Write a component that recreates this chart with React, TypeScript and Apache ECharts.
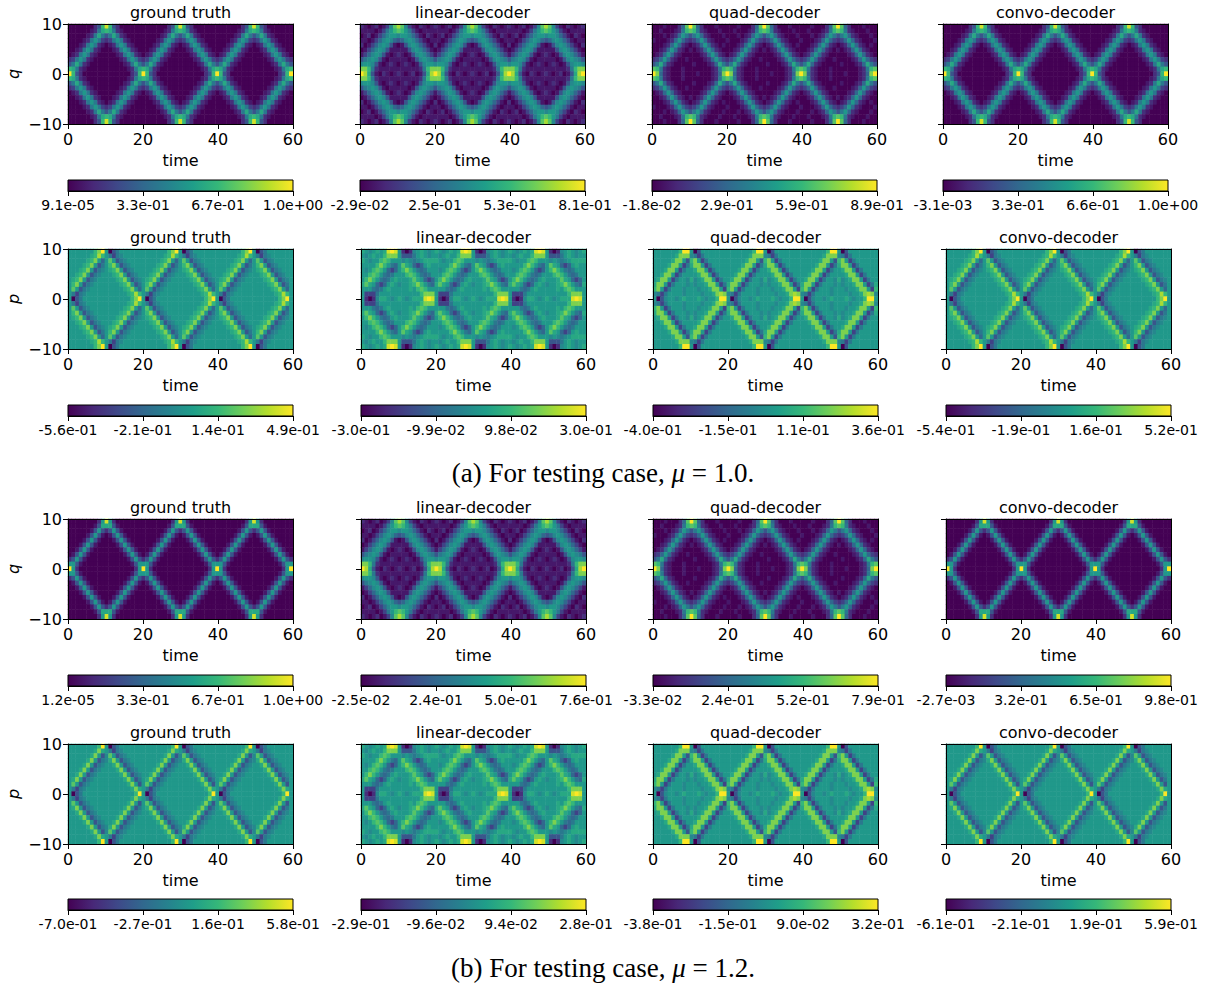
import React, { useEffect, useRef } from "react";
import * as echarts from "echarts";

// Colour levels (hex digit = 0..15 along the colour bar).
// One string per row from q = 10 down to q = -10; one character per time unit, 0..60.
// Spaces only group the characters for reading and carry no value.
const qTruth = [
  "000000024aea42000000 000000024aea42000000 000000024aea42000000 0",
  "0000001269a962100000 0000001269a962100000 0000001269a962100000 0",
  "00000126964696210000 00000126964696210000 00000126964696210000 0",
  "00001268632368621000 00001268632368621000 00001268632368621000 0",
  "00012686210126862100 00012686210126862100 00012686210126862100 0",
  "00126862100012686210 00126862100012686210 00126862100012686210 0",
  "01268621000001268621 01268621000001268621 01268621000001268621 0",
  "23686210000000126863 23686210000000126863 23686210000000126863 2",
  "46962100000000012696 46962100000000012696 46962100000000012696 4",
  "a9621000000000001269 a9621000000000001269 a9621000000000001269 a",
  "fa42000000000000024a fa42000000000000024a fa42000000000000024a f",
  "a9621000000000001269 a9621000000000001269 a9621000000000001269 a",
  "46962100000000012696 46962100000000012696 46962100000000012696 4",
  "23686210000000126863 23686210000000126863 23686210000000126863 2",
  "01268621000001268621 01268621000001268621 01268621000001268621 0",
  "00126862100012686210 00126862100012686210 00126862100012686210 0",
  "00012686210126862100 00012686210126862100 00012686210126862100 0",
  "00001268632368621000 00001268632368621000 00001268632368621000 0",
  "00000126964696210000 00000126964696210000 00000126964696210000 0",
  "0000001269a962100000 0000001269a962100000 0000001269a962100000 0",
  "000000024aea42000000 000000024aea42000000 000000024aea42000000 0",
];

const qSharp = [
  "0000000028e820000000 0000000028e820000000 0000000028e820000000 0",
  "00000001499941000000 00000001499941000000 00000001499941000000 0",
  "00000014842484100000 00000014842484100000 00000014842484100000 0",
  "00000148410148410000 00000148410148410000 00000148410148410000 0",
  "00001484100014841000 00001484100014841000 00001484100014841000 0",
  "00014841000001484100 00014841000001484100 00014841000001484100 0",
  "00148410000000148410 00148410000000148410 00148410000000148410 0",
  "01484100000000014841 01484100000000014841 01484100000000014841 0",
  "24841000000000001484 24841000000000001484 24841000000000001484 2",
  "88410000000000000148 88410000000000000148 88410000000000000148 8",
  "f8200000000000000028 f8200000000000000028 f8200000000000000028 f",
  "88410000000000000148 88410000000000000148 88410000000000000148 8",
  "24841000000000001484 24841000000000001484 24841000000000001484 2",
  "01484100000000014841 01484100000000014841 01484100000000014841 0",
  "00148410000000148410 00148410000000148410 00148410000000148410 0",
  "00014841000001484100 00014841000001484100 00014841000001484100 0",
  "00001484100014841000 00001484100014841000 00001484100014841000 0",
  "00000148410148410000 00000148410148410000 00000148410148410000 0",
  "00000014842484100000 00000014842484100000 00000014842484100000 0",
  "00000001499941000000 00000001499941000000 00000001499941000000 0",
  "0000000028e820000000 0000000028e820000000 0000000028e820000000 0",
];

const qLinear = [
  "210120137bdb73102101 210120137bdb73102101 210120137bdb73102101 2",
  "111101368aba86310111 111101368aba86310111 111101368aba86310111 1",
  "01201357887887531021 01201357887887531021 01201357887887531021 0",
  "11013578754578753101 11013578754578753101 11013578754578753101 1",
  "20135787410147875310 20135787410147875310 20135787410147875310 2",
  "01357874111114787531 01357874111114787531 01357874111114787531 0",
  "13578741012101478753 13578741012101478753 13578741012101478753 1",
  "46787410111110147876 46787410111110147876 46787410111110147876 4",
  "78874101210121014788 78874101210121014788 78874101210121014788 7",
  "cca621111111111126ac cca621111111111126ac cca621111111111126ac c",
  "fd94102101210120149d fd94102101210120149d fd94102101210120149d f",
  "cca621111111111126ac cca621111111111126ac cca621111111111126ac c",
  "78874101210121014788 78874101210121014788 78874101210121014788 7",
  "46787410111110147876 46787410111110147876 46787410111110147876 4",
  "13578741012101478753 13578741012101478753 13578741012101478753 1",
  "01357874111114787531 01357874111114787531 01357874111114787531 0",
  "20135787410147875310 20135787410147875310 20135787410147875310 2",
  "11013578754578753101 11013578754578753101 11013578754578753101 1",
  "01201357887887531021 01201357887887531021 01201357887887531021 0",
  "111101368aba86310111 111101368aba86310111 111101368aba86310111 1",
  "210120137bdb73102101 210120137bdb73102101 210120137bdb73102101 2",
];

const qQuad = [
  "000100025bfb52000100 000100025bfb52000100 000100025bfb52000100 0",
  "001000126aba62100010 001000126aba62100010 001000126aba62100010 0",
  "00010125864685210001 00010125864685210001 00010125864685210001 0",
  "10001258532358521000 10001258532358521000 10001258532358521000 1",
  "00012585210125852101 00012585210125852101 00012585210125852101 0",
  "00125852101012585210 00125852101012585210 00125852101012585210 0",
  "01258521000001258521 01258521000001258521 01258521000001258521 0",
  "23585210010000125853 23585210010000125853 23585210010000125853 2",
  "46952100000100012596 46952100000100012596 46952100000100012596 4",
  "ba62100010000000126a ba62100010000000126a ba62100010000000126a b",
  "fc52100010001000125c fc52100010001000125c fc52100010001000125c f",
  "ba62100010000000126a ba62100010000000126a ba62100010000000126a b",
  "46952100000100012596 46952100000100012596 46952100000100012596 4",
  "23585210010000125853 23585210010000125853 23585210010000125853 2",
  "01258521000001258521 01258521000001258521 01258521000001258521 0",
  "00125852101012585210 00125852101012585210 00125852101012585210 0",
  "00012585210125852101 00012585210125852101 00012585210125852101 0",
  "10001258532358521000 10001258532358521000 10001258532358521000 1",
  "00010125864685210001 00010125864685210001 00010125864685210001 0",
  "001000126aba62100010 001000126aba62100010 001000126aba62100010 0",
  "000100025bfb52000100 000100025bfb52000100 000100025bfb52000100 0",
];

const pTruth = [
  "8888888acf8046888888 8888888acf8046888888 8888888acf8046888888 8",
  "8888889ada8636788888 8888889ada8636788888 8888889ada8636788888 8",
  "888889ac858b84678888 888889ac858b84678888 888889ac858b84678888 8",
  "88889ac8468ac8467888 88889ac8468ac8467888 88889ac8468ac8467888 8",
  "8889ac846789ac846788 8889ac846789ac846788 8889ac846789ac846788 8",
  "889ac84678889ac84678 889ac84678889ac84678 889ac84678889ac84678 8",
  "89ac8467888889ac8467 89ac8467888889ac8467 89ac8467888889ac8467 8",
  "8ac846788888889ac846 8ac846788888889ac846 8ac846788888889ac846 8",
  "8b84678888888889ac85 8b84678888888889ac85 8b84678888888889ac85 8",
  "86367888888888889ada 86367888888888889ada 86367888888888889ada 8",
  "80468888888888888acf 80468888888888888acf 80468888888888888acf 8",
  "86367888888888889ada 86367888888888889ada 86367888888888889ada 8",
  "8b84678888888889ac85 8b84678888888889ac85 8b84678888888889ac85 8",
  "8ac846788888889ac846 8ac846788888889ac846 8ac846788888889ac846 8",
  "89ac8467888889ac8467 89ac8467888889ac8467 89ac8467888889ac8467 8",
  "889ac84678889ac84678 889ac84678889ac84678 889ac84678889ac84678 8",
  "8889ac846789ac846788 8889ac846789ac846788 8889ac846789ac846788 8",
  "88889ac8468ac8467888 88889ac8468ac8467888 88889ac8468ac8467888 8",
  "888889ac858b84678888 888889ac858b84678888 888889ac858b84678888 8",
  "8888889ada8636788888 8888889ada8636788888 8888889ada8636788888 8",
  "8888888acf8046888888 8888888acf8046888888 8888888acf8046888888 8",
];

const pSharp = [
  "88888888af8046888888 88888888af8046888888 88888888af8046888888 8",
  "88888889c98636788888 88888889c98636788888 88888889c98636788888 8",
  "8888889c847b84678888 8888889c847b84678888 8888889c847b84678888 8",
  "888889c84679c8467888 888889c84679c8467888 888889c84679c8467888 8",
  "88889c8467889c846788 88889c8467889c846788 88889c8467889c846788 8",
  "8889c846788889c84678 8889c846788889c84678 8889c846788889c84678 8",
  "889c84678888889c8467 889c84678888889c8467 889c84678888889c8467 8",
  "89c8467888888889c846 89c8467888888889c846 89c8467888888889c846 8",
  "8b846788888888889c84 8b846788888888889c84 8b846788888888889c84 8",
  "863678888888888889c9 863678888888888889c9 863678888888888889c9 8",
  "804688888888888888af 804688888888888888af 804688888888888888af 8",
  "863678888888888889c9 863678888888888889c9 863678888888888889c9 8",
  "8b846788888888889c84 8b846788888888889c84 8b846788888888889c84 8",
  "89c8467888888889c846 89c8467888888889c846 89c8467888888889c846 8",
  "889c84678888889c8467 889c84678888889c8467 889c84678888889c8467 8",
  "8889c846788889c84678 8889c846788889c84678 8889c846788889c84678 8",
  "88889c8467889c846788 88889c8467889c846788 88889c8467889c846788 8",
  "888889c84679c8467888 888889c84679c8467888 888889c84679c8467888 8",
  "8888889c847b84678888 8888889c847b84678888 8888889c847b84678888 8",
  "88888889c98636788888 88888889c98636788888 88888889c98636788888 8",
  "88888888af8046888888 88888888af8046888888 88888888af8046888888 8",
];

const pLinear = [
  "9878989efe8202789878 9878989efe8202789878 9878989efe8202789878 9",
  "878988accc8444689878 878988accc8444689878 878988accc8444689878 8",
  "98788aba888787678999 98788aba888787678999 98788aba888787678999 9",
  "8888aca8658b98535898 8888aca8658b98535898 8888aca8658b98535898 8",
  "878aba85358aca865688 878aba85358aca865688 878aba85358aca865688 8",
  "88aba8656888aba86568 88aba8656888aba86568 88aba8656888aba86568 8",
  "8aca8656898889b98535 8aca8656898889b98535 8aca8656898889b98535 8",
  "9b985358987889aca865 9b985358987889aca865 9b985358987889aca865 9",
  "888656898888898aba88 888656898888898aba88 888656898888898aba88 8",
  "8333688888888888accc 8333688888888888accc 8333688888888888accc 8",
  "82027998789878999efe 82027998789878999efe 82027998789878999efe 8",
  "8333688888888888accc 8333688888888888accc 8333688888888888accc 8",
  "888656898888898aba88 888656898888898aba88 888656898888898aba88 8",
  "9b985358987889aca865 9b985358987889aca865 9b985358987889aca865 9",
  "8aca8656898889b98535 8aca8656898889b98535 8aca8656898889b98535 8",
  "88aba8656888aba86568 88aba8656888aba86568 88aba8656888aba86568 8",
  "878aba85358aca865688 878aba85358aca865688 878aba85358aca865688 8",
  "8888aca8658b98535898 8888aca8658b98535898 8888aca8658b98535898 8",
  "98788aba888787678999 98788aba888787678999 98788aba888787678999 9",
  "878988accc8444689878 878988accc8444689878 878988accc8444689878 8",
  "9878989efe8202789878 9878989efe8202789878 9878989efe8202789878 9",
];

const pQuad = [
  "8888888aff8048888888 8888888aff8048888888 8888888aff8048888888 8",
  "8888889ccc7636888888 8888889ccc7636888888 8888889ccc7636888888 8",
  "888889cc84ac83688888 888889cc84ac83688888 888889cc84ac83688888 8",
  "88889cc8369cc8368888 88889cc8369cc8368888 88889cc8369cc8368888 8",
  "8889cc836889cc836888 8889cc836889cc836888 8889cc836889cc836888 8",
  "889cc83688889cc83688 889cc83688889cc83688 889cc83688889cc83688 8",
  "89cc8368879789cc8368 89cc8368879789cc8368 89cc8368879789cc8368 8",
  "9cc836888787889cc836 9cc836888787889cc836 9cc836888787889cc836 9",
  "ac83688878887889cc83 ac83688878887889cc83 ac83688878887889cc83 a",
  "76368888788887889cdc 76368888788887889cdc 76368888788887889cdc 7",
  "80478878988898788aff 80478878988898788aff 80478878988898788aff 8",
  "76368888788887889cdc 76368888788887889cdc 76368888788887889cdc 7",
  "ac83688878887889cc83 ac83688878887889cc83 ac83688878887889cc83 a",
  "9cc836888787889cc836 9cc836888787889cc836 9cc836888787889cc836 9",
  "89cc8368879789cc8368 89cc8368879789cc8368 89cc8368879789cc8368 8",
  "889cc83688889cc83688 889cc83688889cc83688 889cc83688889cc83688 8",
  "8889cc836889cc836888 8889cc836889cc836888 8889cc836889cc836888 8",
  "88889cc8369cc8368888 88889cc8369cc8368888 88889cc8369cc8368888 8",
  "888889cc84ac83688888 888889cc84ac83688888 888889cc84ac83688888 8",
  "8888889ccc7636888888 8888889ccc7636888888 8888889ccc7636888888 8",
  "8888888aff8048888888 8888888aff8048888888 8888888aff8048888888 8",
];

const panelTitles = ["ground truth", "linear-decoder", "quad-decoder", "convo-decoder"];
const rowNames = ["q", "p", "q", "p"];
const rowData = [
  [qTruth, qLinear, qQuad, qTruth],
  [pTruth, pLinear, pQuad, pTruth],
  [qSharp, qLinear, qQuad, qSharp],
  [pSharp, pLinear, pQuad, pSharp],
];
const barLabels = [
  [["9.1e-05", "3.3e-01", "6.7e-01", "1.0e+00"], ["-2.9e-02", "2.5e-01", "5.3e-01", "8.1e-01"], ["-1.8e-02", "2.9e-01", "5.9e-01", "8.9e-01"], ["-3.1e-03", "3.3e-01", "6.6e-01", "1.0e+00"]],
  [["-5.6e-01", "-2.1e-01", "1.4e-01", "4.9e-01"], ["-3.0e-01", "-9.9e-02", "9.8e-02", "3.0e-01"], ["-4.0e-01", "-1.5e-01", "1.1e-01", "3.6e-01"], ["-5.4e-01", "-1.9e-01", "1.6e-01", "5.2e-01"]],
  [["1.2e-05", "3.3e-01", "6.7e-01", "1.0e+00"], ["-2.5e-02", "2.4e-01", "5.0e-01", "7.6e-01"], ["-3.3e-02", "2.4e-01", "5.2e-01", "7.9e-01"], ["-2.7e-03", "3.2e-01", "6.5e-01", "9.8e-01"]],
  [["-7.0e-01", "-2.7e-01", "1.6e-01", "5.8e-01"], ["-2.9e-01", "-9.6e-02", "9.4e-02", "2.8e-01"], ["-3.8e-01", "-1.5e-01", "9.0e-02", "3.2e-01"], ["-6.1e-01", "-2.1e-01", "1.9e-01", "5.9e-01"]],
];
const captions = [
  { text: "(a) For testing case, {i|μ} = 1.0.", top: 454 },
  { text: "(b) For testing case, {i|μ} = 1.2.", top: 949 },
];

const viridis = ["#440154", "#482878", "#3e4989", "#31688e", "#26828e", "#1f9e89", "#35b779", "#6ece58", "#b5de2b", "#fde725"];

const rowTops = [24, 249, 519, 744];
const barTops = [180, 405, 675, 899];
const rowLefts = [
  [68, 360, 652, 943],
  [68, 361, 653, 946],
  [68, 361, 653, 946],
  [68, 361, 653, 946],
];
const PW = 225;
const PH = 100;
const BH = 11;
const FONT = "DejaVu Sans";

function clean(rows: string[]) {
  return rows.map((s) => s.replace(/ /g, ""));
}

function cells(rows: string[]) {
  const out: number[][] = [];
  rows.forEach((s, r) => {
    for (let t = 0; t < s.length; t++) out.push([t, rows.length - 1 - r, parseInt(s[t], 16)]);
  });
  return out;
}

function buildOption() {
  const grid: any[] = [];
  const xAxis: any[] = [];
  const yAxis: any[] = [];
  const series: any[] = [];
  const title: any[] = [];
  const frame = { show: true, onZero: false, lineStyle: { color: "#000", width: 1 } };
  const tick = { show: true, length: 5, lineStyle: { color: "#000", width: 1 } };
  const gradient = {
    type: "linear", x: 0, y: 0, x2: 1, y2: 0,
    colorStops: viridis.map((color, i) => ({ offset: i / (viridis.length - 1), color })),
  };

  rowTops.forEach((top, r) => {
    rowLefts[r].forEach((left, c) => {
      const rows = clean(rowData[r][c]);
      // image panel
      const g = grid.length;
      grid.push({ left, top, width: PW, height: PH, containLabel: false });
      const catX = xAxis.length;
      xAxis.push({
        type: "category", gridIndex: g, position: "top", z: 5,
        data: rows[0].split("").map((_, i) => String(i)),
        axisLine: frame, axisTick: { show: false }, axisLabel: { show: false }, splitLine: { show: false },
      });
      xAxis.push({
        type: "value", gridIndex: g, position: "bottom", z: 5, min: 0, max: 60, interval: 20,
        axisLine: frame, axisTick: tick, splitLine: { show: false },
        axisLabel: { color: "#000", fontSize: 16, fontFamily: FONT, margin: 7 },
        name: "time", nameLocation: "middle", nameGap: 28,
        nameTextStyle: { color: "#000", fontSize: 16, fontFamily: FONT },
      });
      const catY = yAxis.length;
      yAxis.push({
        type: "category", gridIndex: g, position: "right", z: 5,
        data: rows.map((_, i) => String(i)),
        axisLine: frame, axisTick: { show: false }, axisLabel: { show: false }, splitLine: { show: false },
      });
      yAxis.push({
        type: "value", gridIndex: g, position: "left", z: 5, min: -10, max: 10, interval: 10,
        axisLine: frame, axisTick: tick, splitLine: { show: false },
        axisLabel: {
          show: c === 0, color: "#000", fontSize: 16, fontFamily: FONT, margin: 6,
          formatter: (v: number) => String(v).replace("-", "\u2212"),
        },
        name: c === 0 ? rowNames[r] : "", nameLocation: "middle", nameGap: 47, nameRotate: 90,
        nameTextStyle: { color: "#000", fontSize: 16, fontFamily: FONT, fontStyle: "italic" },
      });
      series.push({
        type: "heatmap", xAxisIndex: catX, yAxisIndex: catY, data: cells(rows),
        progressive: 0, silent: true, emphasis: { disabled: true },
      });
      title.push({
        text: panelTitles[c], left: left + PW / 2 - 5, top: top - 25, textAlign: "center",
        textStyle: { color: "#000", fontSize: 16, fontWeight: "normal", fontFamily: FONT },
      });

      // colour bar
      const b = grid.length;
      const labels = barLabels[r][c];
      grid.push({
        show: true, left, top: barTops[r], width: PW, height: BH,
        backgroundColor: gradient, borderColor: "#000", borderWidth: 1,
      });
      xAxis.push({
        type: "value", gridIndex: b, position: "bottom", min: 0, max: 3, interval: 1, z: 5,
        axisLine: frame, axisTick: tick, splitLine: { show: false },
        axisLabel: {
          color: "#000", fontSize: 14, fontFamily: FONT, margin: 7, hideOverlap: false,
          formatter: (v: number) => labels[v],
        },
      });
      yAxis.push({ type: "value", gridIndex: b, show: false, min: 0, max: 1 });
    });
  });

  captions.forEach((cap) => {
    title.push({
      text: cap.text, left: 598, top: cap.top, textAlign: "center",
      textStyle: {
        color: "#000", fontSize: 27, fontWeight: "normal", fontFamily: "Liberation Serif",
        rich: { i: { fontStyle: "italic", fontSize: 27, fontFamily: "Liberation Serif", color: "#000" } },
      },
    });
  });

  return {
    animation: false,
    backgroundColor: "#fff",
    title,
    grid,
    xAxis,
    yAxis,
    visualMap: { show: false, type: "continuous", min: 0, max: 15, dimension: 2, inRange: { color: viridis } },
    series,
  };
}

export default function App() {
  const ref = useRef<HTMLDivElement>(null);
  useEffect(() => {
    const chart = echarts.init(ref.current!, undefined, { renderer: "svg" });
    chart.setOption(buildOption() as any);
    return () => chart.dispose();
  }, []);
  return <div ref={ref} style={{ position: "fixed", left: 0, top: 0, width: 1210, height: 986 }} />;
}
